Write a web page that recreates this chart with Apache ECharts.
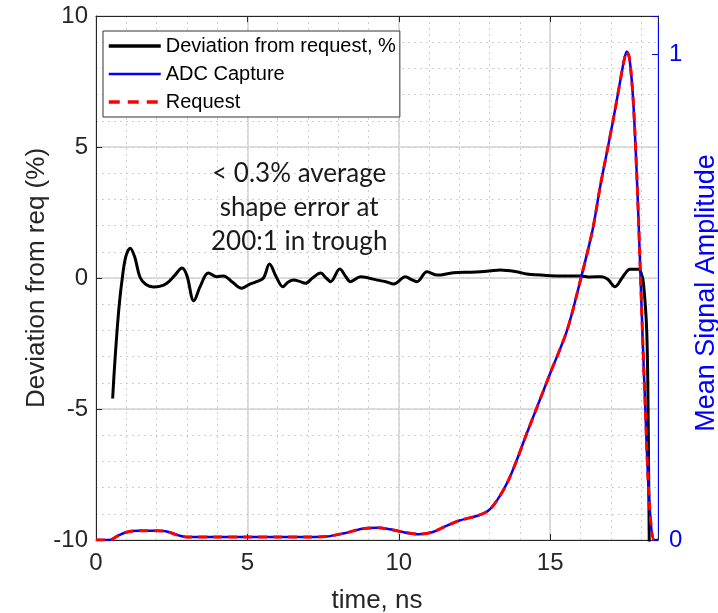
<!DOCTYPE html>
<html>
<head>
<meta charset="utf-8">
<script src="https://cdn.jsdelivr.net/npm/echarts@6/dist/echarts.min.js"></script>
<style>html,body{margin:0;padding:0;background:#fff;}#chart{width:718px;height:613px;}</style>
</head>
<body>
<div id="chart"></div>
<script>
// ---- data ----
const timeMax = 18.56;          // ns, right edge of the x axis
const ampMax = 1.078;           // right axis top
const xTicks = [0, 5, 10, 15];
const leftTicks = [-10, -5, 0, 5, 10];
const rightTicks = [0, 1];

// Deviation from request, % : [time ns, %]
const deviation = [
  [0.55,-4.6],[0.6,-3.6],[0.69,-2.1],[0.77,-1.0],[0.86,-0.08],[0.98,0.8],[1.13,1.14],[1.28,0.8],
  [1.45,0.04],[1.65,-0.25],[1.9,-0.34],[2.1,-0.32],[2.34,-0.2],[2.6,0.1],[2.84,0.38],[3.0,0.1],
  [3.23,-0.87],[3.45,-0.3],[3.71,0.19],[3.99,0.05],[4.21,0.08],[4.5,-0.15],[4.81,-0.39],[5.05,-0.25],
  [5.3,-0.14],[5.53,0.0],[5.73,0.53],[5.95,0.05],[6.17,-0.33],[6.35,-0.15],[6.53,-0.08],[6.7,-0.12],
  [6.92,-0.2],[7.15,0.0],[7.42,0.19],[7.6,0.0],[7.75,-0.14],[8.05,0.34],[8.25,0.05],[8.4,-0.14],
  [8.74,0.05],[9.0,0.0],[9.29,-0.08],[9.6,-0.15],[9.83,-0.23],[10.22,0.05],[10.4,-0.05],[10.6,-0.14],
  [10.93,0.24],[11.27,0.11],[11.8,0.2],[12.4,0.22],[12.7,0.24],[13.0,0.27],[13.35,0.31],[13.9,0.24],
  [14.23,0.15],[15.0,0.09],[15.5,0.08],[15.99,0.08],[16.32,0.04],[16.7,0.05],[16.9,-0.05],[17.14,-0.33],
  [17.4,0.05],[17.64,0.33],[17.91,0.33],[18.0,0.2],[18.08,-0.2],[18.19,-2.1],[18.24,-5.9],[18.27,-10],[18.3,-12]
];

// ADC Capture : [time ns, amplitude]
const adcCapture = [
  [0,0],[0.45,0],[0.7,0.008],[1.0,0.016],[1.4,0.019],[2.0,0.019],[2.3,0.018],[2.7,0.01],[3.0,0.006],
  [4,0.006],[5,0.006],[6,0.006],[7,0.006],[7.6,0.007],[8.2,0.014],[8.8,0.023],[9.3,0.025],[9.7,0.022],
  [10.0,0.018],[10.65,0.012],[11.1,0.016],[11.5,0.027],[12.0,0.040],[12.6,0.050],[12.95,0.06],[13.25,0.082],
  [13.6,0.12],[13.9,0.165],[14.2,0.215],[14.57,0.274],[15.0,0.343],[15.56,0.432],[16.0,0.535],[16.4,0.638],
  [16.65,0.727],[16.88,0.80],[17.08,0.864],[17.3,0.94],[17.45,0.99],[17.53,1.005],[17.62,0.99],[17.74,0.905],
  [17.86,0.75],[17.95,0.6],[18.05,0.42],[18.13,0.288],[18.27,0.082],[18.43,0],[18.56,0]
];

// Request : [time ns, amplitude]
const request = [
  [0,0],[0.45,0],[0.7,0.008],[1.0,0.016],[1.4,0.019],[2.0,0.019],[2.3,0.018],[2.7,0.01],[3.0,0.006],
  [4,0.006],[5,0.006],[6,0.006],[7,0.006],[7.6,0.007],[8.2,0.014],[8.8,0.023],[9.3,0.025],[9.7,0.022],
  [10.0,0.018],[10.65,0.012],[11.1,0.016],[11.5,0.027],[12.0,0.040],[12.6,0.050],[12.95,0.06],[13.25,0.082],
  [13.6,0.12],[13.9,0.165],[14.2,0.215],[14.57,0.274],[15.0,0.343],[15.56,0.432],[16.0,0.535],[16.4,0.638],
  [16.65,0.727],[16.88,0.80],[17.08,0.864],[17.3,0.94],[17.45,0.99],[17.53,1.005],[17.62,0.99],[17.74,0.905],
  [17.86,0.75],[17.95,0.6],[18.05,0.42],[18.13,0.288],[18.27,0.082],[18.43,0],[18.56,0]
];

const annotation = ['< 0.3% average', 'shape error at', '200:1 in trough'];

// ---- chart ----
const AX = '#262626';
const FONT = '"Liberation Sans", Arial, sans-serif';
const inList = (list) => (v) => list.some(t => Math.abs(t - v) < 1e-9) ? String(v) : '';

const chart = echarts.init(document.getElementById('chart'), null, {renderer: 'canvas'});
chart.setOption({
  animation: false,
  backgroundColor: '#fff',
  grid: {left: 96, right: 60, top: 16, bottom: 73, containLabel: false, outerBoundsMode: 'none'},
  legend: {
    orient: 'vertical', left: 103, top: 31,
    backgroundColor: '#fff', borderColor: '#333', borderWidth: 1,
    padding: [5, 4, 5, 4], itemGap: 8, itemWidth: 52, itemHeight: 14,
    itemStyle: {opacity: 0},
    textStyle: {fontFamily: FONT, fontSize: 20, color: '#000'},
    data: [
      {name: 'Deviation from request, %', lineStyle: {width: 3.5}},
      {name: 'ADC Capture', lineStyle: {width: 2.5}},
      {name: 'Request', lineStyle: {width: 3.5, type: [11, 8]}}
    ]
  },
  xAxis: [
    {type: 'value', min: 0, max: timeMax, interval: 5, position: 'bottom',
     name: 'time, ns', nameLocation: 'middle', nameGap: 48, nameMoveOverlap: false,
     nameTextStyle: {fontFamily: FONT, fontSize: 26, color: AX},
     axisLine: {show: true, onZero: false, lineStyle: {color: AX, width: 1}},
     axisTick: {show: true, inside: true, length: 6, lineStyle: {color: AX}},
     axisLabel: {fontFamily: FONT, fontSize: 24, color: AX, margin: 11, formatter: inList(xTicks)},
     splitLine: {show: true, lineStyle: {color: '#d2d2d2', width: 1.5}}},
    {type: 'value', min: 0, max: timeMax, interval: 5, position: 'top',
     axisLine: {show: true, onZero: false, lineStyle: {color: AX, width: 1}},
     axisTick: {show: true, inside: true, length: 6, lineStyle: {color: AX}},
     axisLabel: {show: false}, splitLine: {show: false}},
    {type: 'value', min: 0, max: timeMax, interval: 1, position: 'bottom',
     axisLine: {show: false}, axisTick: {show: false}, axisLabel: {show: false},
     splitLine: {show: true, lineStyle: {color: '#cfcfcf', width: 1, type: [2, 4]}}}
  ],
  yAxis: [
    {type: 'value', min: -10, max: 10, interval: 5, position: 'left',
     name: 'Deviation from req (%)', nameLocation: 'middle', nameRotate: 90, nameGap: 46, nameMoveOverlap: false,
     nameTextStyle: {fontFamily: FONT, fontSize: 26, color: AX},
     axisLine: {show: true, onZero: false, lineStyle: {color: AX, width: 1}},
     axisTick: {show: true, inside: true, length: 6, lineStyle: {color: AX}},
     axisLabel: {fontFamily: FONT, fontSize: 24, color: AX, margin: 8, formatter: inList(leftTicks)},
     splitLine: {show: true, lineStyle: {color: '#d2d2d2', width: 1.5}}},
    {type: 'value', min: 0, max: ampMax, interval: 1, position: 'right',
     name: 'Mean Signal Amplitude', nameLocation: 'middle', nameRotate: 90, nameGap: 35,
     nameTextStyle: {fontFamily: FONT, fontSize: 27, color: '#0000ff', padding: [0, 30, 0, 0]},
     axisLine: {show: true, onZero: false, lineStyle: {color: '#0000ff', width: 1}},
     axisTick: {show: true, inside: true, length: 6, lineStyle: {color: '#0000ff'}},
     axisLabel: {fontFamily: FONT, fontSize: 24, color: '#0000ff', margin: 11, formatter: inList(rightTicks)},
     splitLine: {show: false}},
    {type: 'value', min: -10, max: 10, interval: 1, position: 'left',
     axisLine: {show: false}, axisTick: {show: false}, axisLabel: {show: false},
     splitLine: {show: true, lineStyle: {color: '#cfcfcf', width: 1, type: [2, 4]}}}
  ],
  graphic: [{
    type: 'text', left: 211, top: 157, z: 10,
    style: {text: annotation.join('\n'), font: '26px Lato, "Open Sans", sans-serif',
            fill: '#1a1a1a', textAlign: 'center', lineHeight: 34, x: 87}
  }],
  series: [
    {name: 'Deviation from request, %', type: 'line', xAxisIndex: 0, yAxisIndex: 0,
     data: deviation, smooth: 0.35, showSymbol: false, symbol: 'none',
     lineStyle: {color: '#000', width: 3}, itemStyle: {color: '#000'}},
    {name: 'ADC Capture', type: 'line', xAxisIndex: 0, yAxisIndex: 1,
     data: adcCapture, smooth: 0.3, showSymbol: false, symbol: 'none',
     lineStyle: {color: '#0000ff', width: 2.5}, itemStyle: {color: '#0000ff'}},
    {name: 'Request', type: 'line', xAxisIndex: 0, yAxisIndex: 1,
     data: request, smooth: 0.3, showSymbol: false, symbol: 'none',
     lineStyle: {color: '#ff0000', width: 3, type: [9, 6]}, itemStyle: {color: '#ff0000'}}
  ]
});
</script>
</body>
</html>
